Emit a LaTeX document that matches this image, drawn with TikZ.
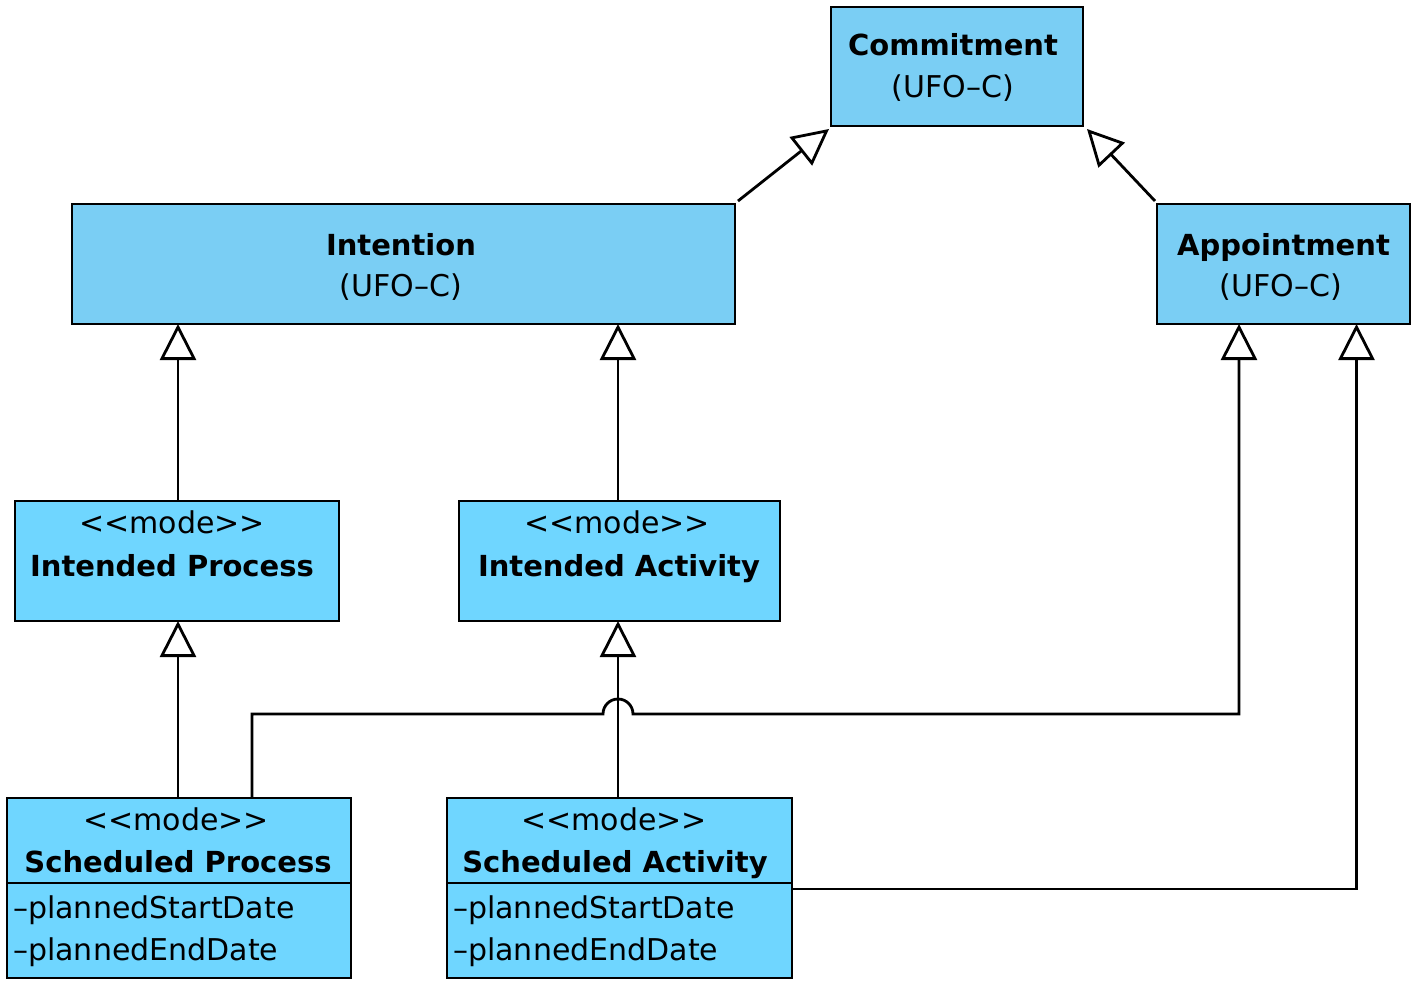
\documentclass[tikz,border=0pt]{standalone}
\usepackage{fontspec}
\setmainfont{DejaVu Sans}
\usetikzlibrary{arrows.meta}
\definecolor{topblue}{HTML}{7ACEF4}
\definecolor{modeblue}{HTML}{6FD6FF}
\begin{document}
\begin{tikzpicture}[x=1pt,y=-1pt,
  box/.style={draw=black, line width=2.8pt, inner sep=0pt, outer sep=0pt, anchor=north west},
  topbox/.style={box, fill=topblue},
  modebox/.style={box, fill=modeblue},
  txt/.style={anchor=base, inner sep=0pt, font=\fontsize{30}{36}\selectfont},
  btxt/.style={txt, font=\fontsize{29}{36}\selectfont\bfseries},
  attr/.style={txt, anchor=base west},
  gen/.style={draw, line width=2.8pt, -{Triangle[open, length=36pt, width=36pt, fill=white, line width=2.8pt]}},
  plain/.style={draw, line width=2.8pt}]
\useasboundingbox[fill=white] (0,0) rectangle (1422,990);

% boxes
\node[topbox, minimum width=252pt, minimum height=119pt] (com) at (831,7) {};
\node[topbox, minimum width=663pt, minimum height=120pt] (int) at (72,204) {};
\node[topbox, minimum width=253pt, minimum height=120pt] (app) at (1157,204) {};
\node[modebox, minimum width=324pt, minimum height=120pt] (ip) at (15,501) {};
\node[modebox, minimum width=321pt, minimum height=120pt] (ia) at (459,501) {};
\node[modebox, minimum width=344pt, minimum height=180pt] (sp) at (7,798) {};
\node[modebox, minimum width=345pt, minimum height=180pt] (sa) at (447,798) {};
\draw[plain] ([yshift=-85pt]sp.north west) -- ([yshift=-85pt]sp.north east);
\draw[plain] ([yshift=-85pt]sa.north west) -- ([yshift=-85pt]sa.north east);

% texts
\node[btxt] (comt1) at (953,56) {Commitment};
\node[txt] (comt2) at (953,97) {(UFO–C)};
\node[btxt] (intt1) at (401,255) {Intention};
\node[txt] (intt2) at (401,296) {(UFO–C)};
\node[btxt] (appt1) at (1283.5,255) {Appointment};
\node[txt] (appt2) at (1281,296) {(UFO–C)};
\node[txt] (ipt1) at (172,533) {<{}<mode>{}>};
\node[btxt] (ipt2) at (172,576) {Intended Process};
\node[txt] (iat1) at (617,533) {<{}<mode>{}>};
\node[btxt] (iat2) at (619,576) {Intended Activity};
\node[txt] (spt1) at (176,830) {<{}<mode>{}>};
\node[btxt] (spt2) at (178,872) {Scheduled Process};
\node[attr] (spa1) at (13,918) {–plannedStartDate};
\node[attr] (spa2) at (13,960) {–plannedEndDate};
\node[txt] (sat1) at (614,830) {<{}<mode>{}>};
\node[btxt] (sat2) at (615,872) {Scheduled Activity};
\node[attr] (saa1) at (453,918) {–plannedStartDate};
\node[attr] (saa2) at (453,960) {–plannedEndDate};

% generalizations
\draw[gen] ([shift={(3,-3)}]int.north east) -- ([shift={(-2,3)}]com.south west);
\draw[gen] ([shift={(-2,-3)}]app.north west) -- ([shift={(4,3)}]com.south east);
\draw[gen] ([xshift=1pt]ip.north) -- ([xshift=1pt]ip.north |- int.south);
\draw[gen] ([xshift=-1.5pt]ia.north) -- ([xshift=-1.5pt]ia.north |- int.south);
\draw[gen] ([xshift=-1pt]sp.north) -- ([xshift=-1pt]sp.north |- ip.south);
\draw[gen] ([xshift=-1.5pt]sa.north) -- ([xshift=-1.5pt]sa.north |- ia.south);
\coordinate (jump) at (618,714);
\draw[gen] ([xshift=73pt]sp.north) |- ([xshift=-15pt]jump) arc[start angle=180, end angle=360, radius=15] -| ([xshift=-44.5pt]app.south);
\draw[gen] ([yshift=-1pt]sa.east) -| ([xshift=73pt]app.south);
\end{tikzpicture}
\end{document}
